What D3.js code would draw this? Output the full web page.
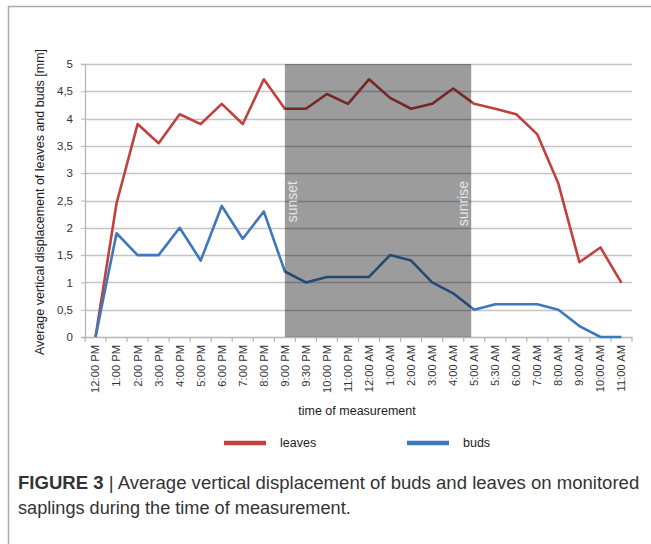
<!DOCTYPE html>
<html><head><meta charset="utf-8">
<script src="https://cdn.jsdelivr.net/npm/d3@7"></script>
<style>body{margin:0;background:#fff}svg{display:block}</style>
</head><body>
<svg id="c" width="651" height="544"></svg>
<script>
const categories = ["12:00 PM","1:00 PM","2:00 PM","3:00 PM","4:00 PM","5:00 PM","6:00 PM","7:00 PM","8:00 PM","9:00 PM","9:30 PM","10:00 PM","11:00 PM","12:00 AM","1:00 AM","2:00 AM","3:00 AM","4:00 AM","5:00 AM","5:30 AM","6:00 AM","7:00 AM","8:00 AM","9:00 AM","10:00 AM","11:00 AM"];
const leaves = [0,2.45,3.9,3.55,4.08,3.9,4.27,3.9,4.72,4.18,4.18,4.45,4.27,4.72,4.38,4.18,4.27,4.55,4.27,4.18,4.08,3.71,2.81,1.37,1.64,0.99];
const buds = [0,1.9,1.5,1.5,2.0,1.4,2.4,1.8,2.3,1.2,1.0,1.1,1.1,1.1,1.5,1.4,1.0,0.8,0.5,0.6,0.6,0.6,0.5,0.2,0,0];
const yTicks = [0,0.5,1,1.5,2,2.5,3,3.5,4,4.5,5];
const nightStart = "9:00 PM", nightEnd = "5:00 AM";

const svg = d3.select("#c");
const L = 85, R = 632, T = 64, B = 337;
const x = d3.scaleBand().domain(categories).range([L, R]);
const y = d3.scaleLinear().domain([0,5]).range([B, T]);
const cx = d => x(d) + x.bandwidth()/2;
const fmt = v => String(v).replace(".", ",");
const FONT = "Arial, 'Liberation Sans', sans-serif";

// frame
svg.append("path").attr("d","M8.5,544 V6.5 H651").attr("fill","none").attr("stroke","#aaa").attr("stroke-width",1.5);

// grid
svg.append("g").selectAll("line").data(yTicks.filter(v=>v>0)).join("line")
  .attr("x1",L).attr("x2",R).attr("y1",d=>Math.round(y(d))+0.5).attr("y2",d=>Math.round(y(d))+0.5)
  .attr("stroke","#c4c4c4").attr("stroke-width",1.3);

// y axis
const ya = svg.append("g").attr("transform",`translate(${L},0)`)
  .call(d3.axisLeft(y).tickValues(yTicks).tickFormat(fmt).tickSize(4).tickPadding(8));
ya.select(".domain").attr("stroke","#b5b5b5").attr("stroke-width",1.3);
ya.selectAll(".tick line").attr("stroke","#b5b5b5");
ya.selectAll("text").attr("font-family",FONT).attr("font-size",11.5).attr("fill","#333");

// x axis
const xa = svg.append("g").attr("transform",`translate(0,${B})`)
  .call(d3.axisBottom(x).tickSize(0).tickPadding(0));
xa.select(".domain").attr("stroke","#b5b5b5").attr("stroke-width",1.3);
xa.selectAll(".tick text")
  .attr("transform","rotate(-90)").attr("text-anchor","end")
  .attr("x",-8).attr("y",0).attr("dy","0.35em")
  .attr("font-family",FONT).attr("font-size",11.2).attr("fill","#333");
const bounds = categories.map(c=>x(c)).concat([R]);
svg.append("g").selectAll("line").data(bounds).join("line")
  .attr("x1",d=>d).attr("x2",d=>d).attr("y1",B).attr("y2",B+5)
  .attr("stroke","#b5b5b5").attr("stroke-width",1.2);

// lines
const line = d3.line().x((d,i)=>cx(categories[i])).y(d=>y(d));
svg.append("path").datum(leaves).attr("d",line).attr("fill","none").attr("stroke","#c0413e").attr("stroke-width",2.6).attr("stroke-linejoin","round");
svg.append("path").datum(buds).attr("d",line).attr("fill","none").attr("stroke","#3d78bd").attr("stroke-width",2.6).attr("stroke-linejoin","round");

// night shade
const sx0 = cx(nightStart), sx1 = cx(nightEnd) - 3;
svg.append("rect").attr("x",sx0).attr("y",T).attr("width",sx1-sx0).attr("height",B-T)
  .attr("fill","#000").attr("fill-opacity",0.39);
svg.append("text").attr("transform",`translate(${sx0+12},181) rotate(-90)`).attr("text-anchor","end")
  .attr("font-family",FONT).attr("font-size",14).attr("fill","#e6e6e6").text("sunset");
svg.append("text").attr("transform",`translate(${sx1-3},181) rotate(-90)`).attr("text-anchor","end")
  .attr("font-family",FONT).attr("font-size",14).attr("fill","#e6e6e6").text("sunrise");

// axis titles
svg.append("text").attr("transform","translate(44,202) rotate(-90)").attr("text-anchor","middle")
  .attr("font-family",FONT).attr("font-size",12.5).attr("fill","#222")
  .text("Average vertical displacement of leaves and buds [mm]");
svg.append("text").attr("x",357).attr("y",415).attr("text-anchor","middle")
  .attr("font-family",FONT).attr("font-size",12.5).attr("fill","#222")
  .text("time of measurement");

// legend
const legend = [{name:"leaves",color:"#c0413e",x:224},{name:"buds",color:"#3d78bd",x:407}];
const lg = svg.append("g").selectAll("g").data(legend).join("g").attr("transform",d=>`translate(${d.x},443)`);
lg.append("line").attr("x1",0).attr("x2",42).attr("stroke",d=>d.color).attr("stroke-width",4.5);
lg.append("text").attr("x",56).attr("dy","0.35em").attr("font-family",FONT)
  .attr("font-size",12.5).attr("fill","#222").text(d=>d.name);

// caption
function cap(yPos, parts, targetW){
  const t = svg.append("text").attr("x",18).attr("y",yPos)
    .attr("font-family","'Liberation Sans Narrow', 'Arial Narrow', Arial, sans-serif").attr("font-size",18.5).attr("fill","#333");
  parts.forEach(p=>t.append("tspan").attr("font-weight",p.b?"bold":"normal").text(p.t));
  const w = t.node().getComputedTextLength();
  const s = targetW / w;
  t.attr("transform",`translate(18,0) scale(${s},1) translate(-18,0)`);
}
cap(489, [{t:"FIGURE 3",b:true},{t:" | Average vertical displacement of buds and leaves on monitored"}], 622);
cap(514, [{t:"saplings during the time of measurement."}], 333);
</script>
</body></html>
